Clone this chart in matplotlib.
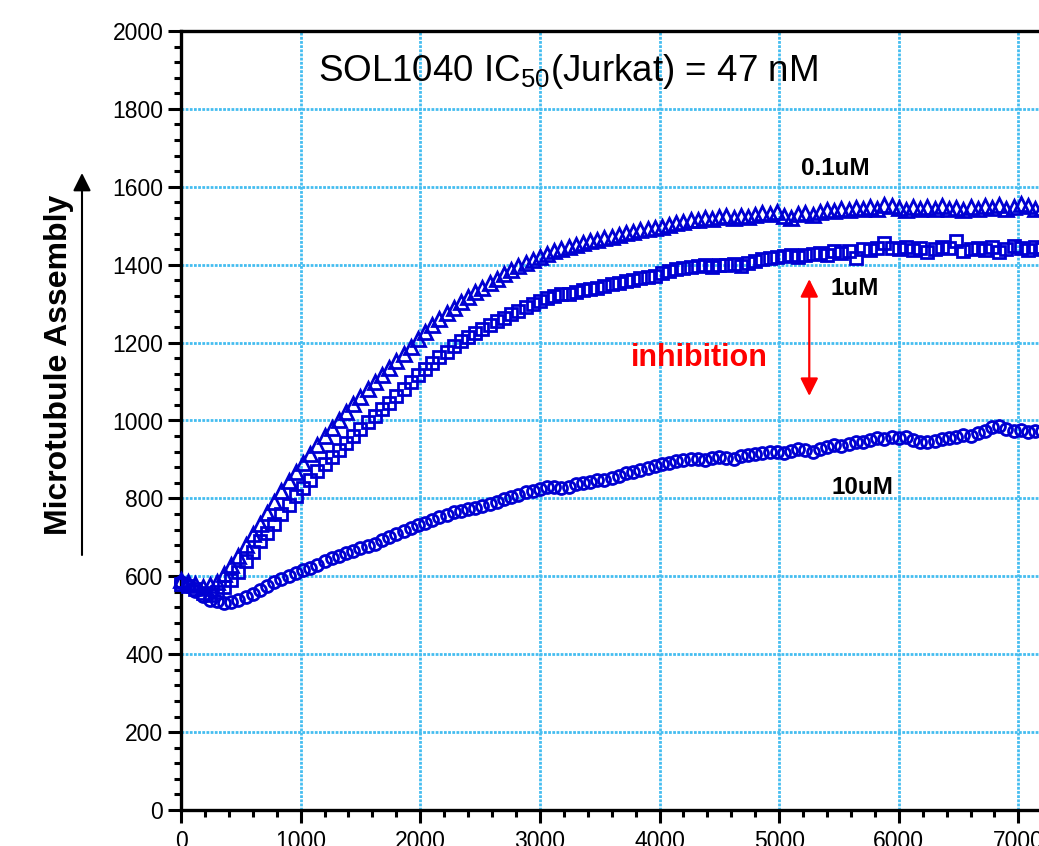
import numpy as np
import matplotlib
matplotlib.use("Agg")
import matplotlib.pyplot as plt
from matplotlib.ticker import MultipleLocator

plt.rcParams['font.family'] = ['Liberation Sans', 'DejaVu Sans']
plt.rcParams['mathtext.default'] = 'regular'

# sampling interval (s)
interval = 60

# 0.1 uM (triangles)
conc_01uM = [590, 585, 580, 572, 578, 585, 605, 628, 652, 680, 708, 735, 762, 790, 818, 845, 868, 892, 915, 938,
             960, 982, 1002, 1022, 1042, 1060, 1080, 1098, 1116, 1134, 1152, 1170, 1188, 1208, 1228, 1245, 1260, 1275,
             1290, 1305, 1318, 1330, 1340, 1352, 1364, 1375, 1386, 1396, 1405, 1413, 1420, 1428, 1434, 1440, 1446, 1450,
             1455, 1460, 1464, 1468, 1472, 1476, 1481, 1485, 1488, 1491, 1494, 1498, 1502, 1507, 1510, 1514, 1516, 1520,
             1518, 1522, 1524, 1520, 1526, 1522, 1528, 1532, 1530, 1536, 1526, 1520, 1530, 1534, 1528, 1536, 1540, 1538,
             1544, 1540, 1546, 1544, 1548, 1542, 1554, 1550, 1546, 1540, 1548, 1544, 1548, 1542, 1550, 1544, 1546, 1540,
             1548, 1544, 1550, 1546, 1552, 1544, 1548, 1556, 1550, 1542, 1546]

# 1 uM (squares)
conc_1uM = [580, 575, 568, 558, 552, 560, 572, 590, 612, 638, 662, 690, 712, 735, 760, 782, 805, 826, 848, 870,
            888, 906, 925, 942, 960, 978, 995, 1012, 1030, 1046, 1062, 1080, 1098, 1116, 1132, 1148, 1162, 1176,
            1190, 1203, 1214, 1225, 1236, 1246, 1255, 1264, 1273, 1282, 1292, 1300, 1308, 1315, 1320, 1324, 1326, 1330,
            1334, 1338, 1340, 1346, 1350, 1354, 1358, 1362, 1365, 1368, 1372, 1378, 1384, 1388, 1392, 1394, 1396, 1398,
            1395, 1400, 1398, 1402, 1396, 1404, 1410, 1414, 1418, 1420, 1422, 1426, 1420, 1424, 1428, 1430, 1426, 1434,
            1430, 1436, 1418, 1440, 1438, 1442, 1456, 1444, 1440, 1446, 1438, 1444, 1432, 1440, 1446, 1442, 1462, 1436,
            1440, 1444, 1438, 1446, 1432, 1440, 1448, 1444, 1438, 1446, 1440]

# 10 uM (circles)
conc_10uM = [585, 575, 562, 550, 540, 536, 532, 535, 540, 548, 555, 565, 575, 585, 592, 600, 608, 616, 622, 630,
             638, 646, 652, 660, 666, 672, 678, 684, 692, 700, 708, 716, 724, 732, 738, 744, 752, 758, 764, 768,
             772, 776, 780, 786, 792, 798, 804, 810, 816, 820, 824, 828, 830, 826, 830, 836, 840, 842, 846, 848,
             852, 858, 864, 868, 872, 878, 884, 888, 892, 896, 898, 900, 902, 898, 904, 906, 904, 900, 908, 912,
             914, 916, 918, 920, 916, 922, 926, 924, 920, 928, 932, 936, 934, 940, 946, 944, 950, 956, 952, 958,
             956, 958, 950, 946, 944, 948, 952, 956, 958, 962, 960, 968, 974, 984, 986, 978, 972, 976, 970, 974, 972]

series_labels = ["0.1uM", "1uM", "10uM"]
x_ticks = [0, 1000, 2000, 3000, 4000, 5000, 6000, 7000, 8000]
y_ticks = [0, 200, 400, 600, 800, 1000, 1200, 1400, 1600, 1800, 2000]

W, H = 1039, 846
fig = plt.figure(figsize=(W / 100, H / 100), dpi=100)
ax = fig.add_axes([181 / W, 36 / H, 957 / W, 779 / H])

blue = '#0000d2'
for vals, mk, ms in [(conc_10uM, 'o', 8.6), (conc_1uM, 's', 8.4), (conc_01uM, '^', 9.6)]:
    t = np.arange(len(vals)) * interval
    ax.plot(t, vals, linestyle='none', marker=mk, markersize=ms, markerfacecolor='none',
            markeredgecolor=blue, markeredgewidth=2.0, zorder=3, clip_on=False)

ax.set_xlim(x_ticks[0], x_ticks[-1])
ax.set_ylim(y_ticks[0], y_ticks[-1])
ax.set_xticks(x_ticks)
ax.set_yticks(y_ticks)
ax.xaxis.set_minor_locator(MultipleLocator(200))
ax.yaxis.set_minor_locator(MultipleLocator(40))

ax.grid(True, which='major', color='#45bdf0', linestyle=(0, (1, 0.5)), linewidth=2.0, zorder=0)
ax.set_axisbelow(True)

for s in ax.spines.values():
    s.set_linewidth(2.4)
ax.tick_params(which='major', direction='out', length=9.2, width=2.2, labelsize=16.5, pad=3.5, colors='black')
ax.tick_params(axis='x', which='major', pad=5.5)
ax.tick_params(which='minor', direction='out', length=4.8, width=2.2)

# title text inside the plot
ax.text(3232, 1897, 'SOL1040 IC$_{50}$(Jurkat) = 47 nM', fontsize=26.5, ha='center', va='center')

# series labels
ax.text(5470, 1648, series_labels[0], fontsize=17.5, fontweight='bold', ha='center', va='center')
ax.text(5628, 1338, series_labels[1], fontsize=17.5, fontweight='bold', ha='center', va='center')
ax.text(5695, 829, series_labels[2], fontsize=17.5, fontweight='bold', ha='center', va='center')

# inhibition
ax.text(4332, 1160, 'inhibition', fontsize=22, fontweight='bold', color='#ff0000', ha='center', va='center')
ax.annotate('', xy=(5252, 1363), xytext=(5252, 1063),
            arrowprops=dict(arrowstyle='<|-|>,head_length=0.6,head_width=0.3', mutation_scale=18,
                            color='#ff0000', lw=1.6, shrinkA=0, shrinkB=0))

# y label with arrow
fig.text(59 / W, 1 - 365 / H, 'Microtubule Assembly', rotation=90, fontsize=23, fontweight='bold',
         ha='center', va='center')
ax.annotate('', xy=(82, H - 173), xytext=(82, H - 555), xycoords='figure pixels',
            textcoords='figure pixels',
            arrowprops=dict(arrowstyle='-|>,head_length=0.6,head_width=0.3', mutation_scale=18,
                            color='black', lw=1.5, shrinkA=0, shrinkB=0))

fig.savefig('out.png', dpi=100)
